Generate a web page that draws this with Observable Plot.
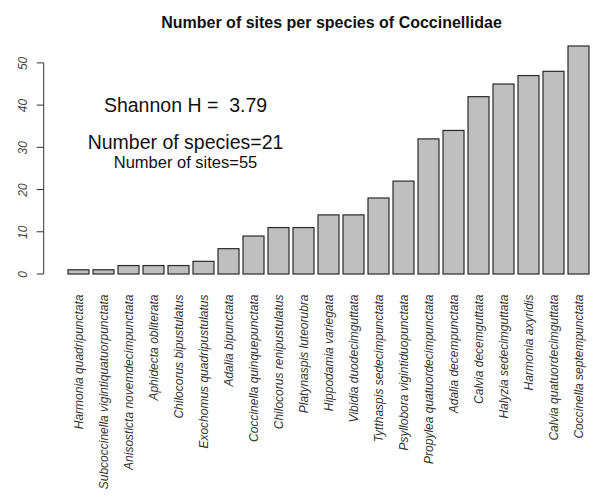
<!DOCTYPE html>
<html><head><meta charset="utf-8">
<script src="https://cdn.jsdelivr.net/npm/d3@7"></script>
<script src="https://cdn.jsdelivr.net/npm/@observablehq/plot@0.6"></script>
<style>
body{margin:0;background:#fff;font-family:"Liberation Sans",Arial,sans-serif;}
#wrap{position:relative;width:597px;height:502px;overflow:hidden;}
#title{height:40px;width:597px;padding-left:66px;padding-top:15px;box-sizing:border-box;text-align:center;font-weight:bold;font-size:16px;line-height:16px;color:#111;}
svg text{white-space:pre;}
</style></head><body>
<div id="wrap"><div id="title">Number of sites per species of Coccinellidae</div><div id="chart"></div></div>
<script>
const species = [
  "Harmonia quadripunctata",
  "Subcoccinella vigintiquatuorpunctata",
  "Anisosticta novemdecimpunctata",
  "Aphidecta obliterata",
  "Chilocorus bipustulatus",
  "Exochomus quadripustulatus",
  "Adalia bipunctata",
  "Coccinella quinquepunctata",
  "Chilocorus renipustulatus",
  "Platynaspis luteorubra",
  "Hippodamia variegata",
  "Vibidia duodecimguttata",
  "Tytthaspis sedecimpunctata",
  "Psyllobora vigintiduopunctata",
  "Propylea quatuordecimpunctata",
  "Adalia decempunctata",
  "Calvia decemguttata",
  "Halyzia sedecimguttata",
  "Harmonia axyridis",
  "Calvia quatuordecimguttata",
  "Coccinella septempunctata"
];
const sites = [1, 1, 2, 2, 2, 3, 6, 9, 11, 11, 14, 14, 18, 22, 32, 34, 42, 45, 47, 48, 54];
const yTicks = [0, 10, 20, 30, 40, 50];
const notes = ["Shannon H =  3.79", "Number of species=21", "Number of sites=55"];
const noteY = [40, 31.2, 26.4];
const noteSize = [19.5, 19.5, 16.5];

const data = species.map((s, i) => ({species: s, sites: sites[i]}));
const noteData = notes.map((t, i) => ({t, y: noteY[i], s: noteSize[i]}));

const chart = Plot.plot({
  width: 597, height: 462,
  marginTop: 6, marginBottom: 228, marginLeft: 66, marginRight: 6,
  style: {fontFamily: "'Liberation Sans', Arial, sans-serif", background: "#fff"},
  x: {domain: species, paddingInner: 1/6, paddingOuter: 0, label: null},
  y: {domain: [0, 54], label: null},
  marks: [
    Plot.barY(data, {x: "species", y: "sites", fill: "#bfbfbf", stroke: "#2a2a2a", strokeWidth: 1.2}),
    Plot.axisX({tickSize: 0, tickPadding: 20, rotate: -90, textAnchor: "end", lineAnchor: "middle",
      fontStyle: "italic", fontSize: 12, fill: "#333", label: null}),
    Plot.axisY(yTicks, {tickSize: 0, tickPadding: 43.3, rotate: -90, textAnchor: "middle",
      lineAnchor: "middle", fontStyle: "italic", fontSize: 12, fill: "#444", label: null}),
    Plot.text(noteData, {text: "t", y: "y", frameAnchor: "left", dx: 119, textAnchor: "middle",
      fontSize: "s", fill: "#111"})
  ]
});
document.getElementById("chart").appendChild(chart);

// y axis line and tick marks (R style), positioned through Plot's y scale
const ys = chart.scale("y");
const axisX = 66 - 22.3;
const g = d3.select(chart).append("g").attr("stroke", "#333").attr("stroke-width", 1);
g.append("line")
  .attr("x1", axisX).attr("x2", axisX)
  .attr("y1", ys.apply(yTicks[0])).attr("y2", ys.apply(yTicks[yTicks.length - 1]));
g.selectAll("line.tick").data(yTicks).join("line").attr("class", "tick")
  .attr("x1", axisX - 7).attr("x2", axisX)
  .attr("y1", d => ys.apply(d)).attr("y2", d => ys.apply(d));
</script>
</body></html>
